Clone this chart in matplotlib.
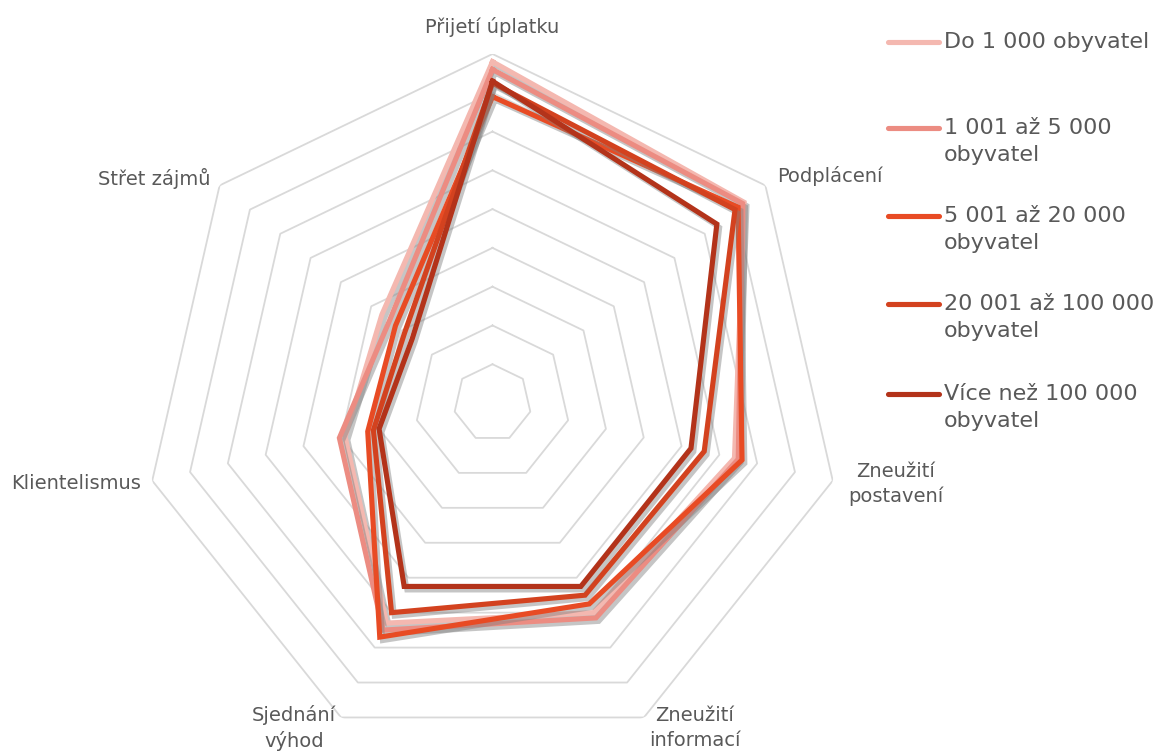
import numpy as np
import matplotlib
matplotlib.use("Agg")
from matplotlib import pyplot as plt
from matplotlib import patheffects as pe
from matplotlib.lines import Line2D

plt.rcParams['font.family'] = ['DejaVu Sans']

# kategorie (osy grafu)
kategorie = ["Přijetí úplatku", "Podplácení", "Zneužití\npostavení",
             "Zneužití\ninformací", "Sjednání\nvýhod", "Klientelismus",
             "Střet zájmů"]

# serie - velikost obce
serie = ["Do 1 000 obyvatel", "1 001 až 5 000\nobyvatel", "5 001 až 20 000\nobyvatel",
         "20 001 až 100 000\nobyvatel", "Více než 100 000\nobyvatel"]

do_1000 = [88, 83, 64, 60, 63, 39, 36.5]
od_1001 = [86, 82.5, 65, 61.5, 65, 40.5, 34]
od_5001 = [79, 81, 66, 57.5, 67, 33, 32]
od_20001 = [82.5, 80, 56, 55, 60, 31.5, 29]
nad_100000 = [83, 74, 52.5, 52.5, 52.5, 30, 26.5]

hodnoty = [do_1000, od_1001, od_5001, od_20001, nad_100000]
barvy = ["#F4B8B0", "#EC8C82", "#E84B24", "#D3421F", "#B3331A"]

kruhy = np.arange(10, 100, 10)
rmax = 90

fig = plt.figure(figsize=(11.58, 7.53), dpi=100)
ax = fig.add_axes([0.1239, 0.0013, 0.6028, 0.927], projection="polar")
ax.set_theta_offset(np.pi / 2)
ax.set_theta_direction(-1)
ax.set_ylim(0, rmax)
ax.grid(False)
ax.spines["polar"].set_visible(False)
ax.set_xticks([])
ax.set_yticks([])

n = len(kategorie)
uhly = np.linspace(0, 2 * np.pi, n, endpoint=False)
uhly_z = np.append(uhly, uhly[0])

#mrizka (sedmiuhelniky)
for k in kruhy:
    ax.plot(uhly_z, [k] * (n + 1), color="#D9D9D9", lw=1.3, zorder=1)

stin = [pe.SimpleLineShadow(offset=(2, -2.5), shadow_color="#7f7f7f", alpha=0.45),
        pe.Normal()]
for h, b in zip(hodnoty, barvy):
    ax.plot(uhly_z, h + [h[0]], color=b, lw=3.7, solid_joinstyle="miter",
            path_effects=stin, zorder=3)

# popisky os
pozice = [(97, "center", "center"), (94, "left", "center"), (94, "left", "center"),
          (93, "left", "center"), (93, "right", "center"), (93, "right", "center"),
          (93, "right", "center")]
for u, t, (r, ha, va) in zip(uhly, kategorie, pozice):
    ax.text(u, r, t, ha=ha, va=va, multialignment="center", fontsize=14,
            color="#595959", clip_on=False, linespacing=1.4)

# legenda
ly = [0.944, 0.830, 0.713, 0.596, 0.477]
for y, s, b in zip(ly, serie, barvy):
    fig.add_artist(Line2D([0.767, 0.811], [y, y], color=b, lw=3.7,
                          solid_capstyle="round", transform=fig.transFigure))
    fig.text(0.815, y + 0.0135, s, ha="left", va="top", fontsize=16,
             color="#595959", linespacing=1.45)

fig.savefig("out.png", dpi=100)
